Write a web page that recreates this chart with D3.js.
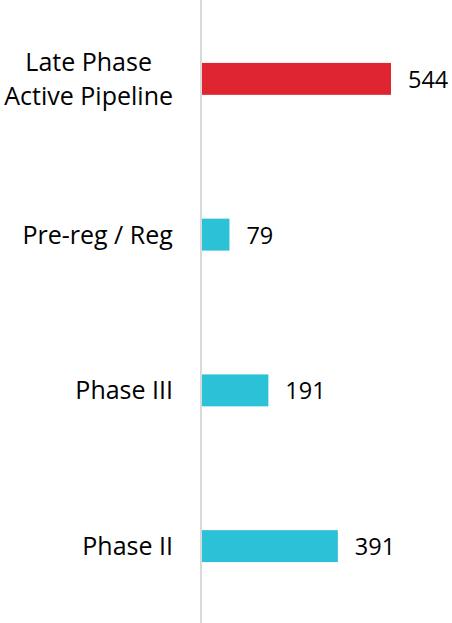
<!DOCTYPE html>
<html>
<head>
<meta charset="utf-8">
<script src="https://cdn.jsdelivr.net/npm/d3@7"></script>
<style>
  body { margin: 0; background: #fff; }
  text { font-family: "Open Sans", sans-serif; fill: #000; }
</style>
</head>
<body>
<script>
var w = 452;
var h = 623;

var categories = ["Late Phase\nActive Pipeline", "Pre-reg / Reg", "Phase III", "Phase II"];
var counts = [544, 79, 191, 391];
var barColors = ["#df2532", "#2bc1d7", "#2bc1d7", "#2bc1d7"];

var data = categories.map(function(c, i){ return {cat: c, n: counts[i], color: barColors[i]}; });

var left = 202;

var svg = d3.select("body").append("svg")
  .attr("width", w)
  .attr("height", h);

var x = d3.scaleLinear()
  .domain([0, d3.max(counts)])
  .range([0, 189]);

var y = d3.scaleBand()
  .domain(categories)
  .range([1, h + 1])
  .paddingInner(0.795)
  .paddingOuter(0.3975);

// bars
svg.selectAll("rect.bar")
  .data(data)
  .enter()
  .append("rect")
  .attr("class", "bar")
  .attr("x", left)
  .attr("y", function(d){ return y(d.cat); })
  .attr("width", function(d){ return x(d.n); })
  .attr("height", y.bandwidth())
  .attr("fill", function(d){ return d.color; });

// axis line
svg.append("line")
  .attr("x1", left - 1).attr("x2", left - 1)
  .attr("y1", 0).attr("y2", h)
  .attr("stroke", "#d9d9d9")
  .attr("stroke-width", 2);

// value labels
svg.selectAll("text.val")
  .data(data)
  .enter()
  .append("text")
  .attr("class", "val")
  .attr("x", function(d){ return left + x(d.n) + 17; })
  .attr("y", function(d){ return y(d.cat) + y.bandwidth() / 2 + 9; })
  .attr("font-size", "23.5px")
  .text(function(d){ return d.n; });

// category labels (multi-line, centred within a right-aligned block)
data.forEach(function(d){
  var lines = d.cat.split("\n");
  var g = svg.append("g");
  var cy = y(d.cat) + y.bandwidth() / 2;
  var lh = 34;
  var t = g.append("text").attr("font-size", "25px").attr("text-anchor", "middle");
  lines.forEach(function(l, i){
    t.append("tspan")
      .attr("x", 0)
      .attr("y", cy + 9 + (i - (lines.length - 1) / 2) * lh)
      .text(l);
  });
  var bw = t.node().getBBox().width;
  g.attr("transform", "translate(" + (173 - bw / 2) + ",0)");
});
</script>
</body>
</html>
